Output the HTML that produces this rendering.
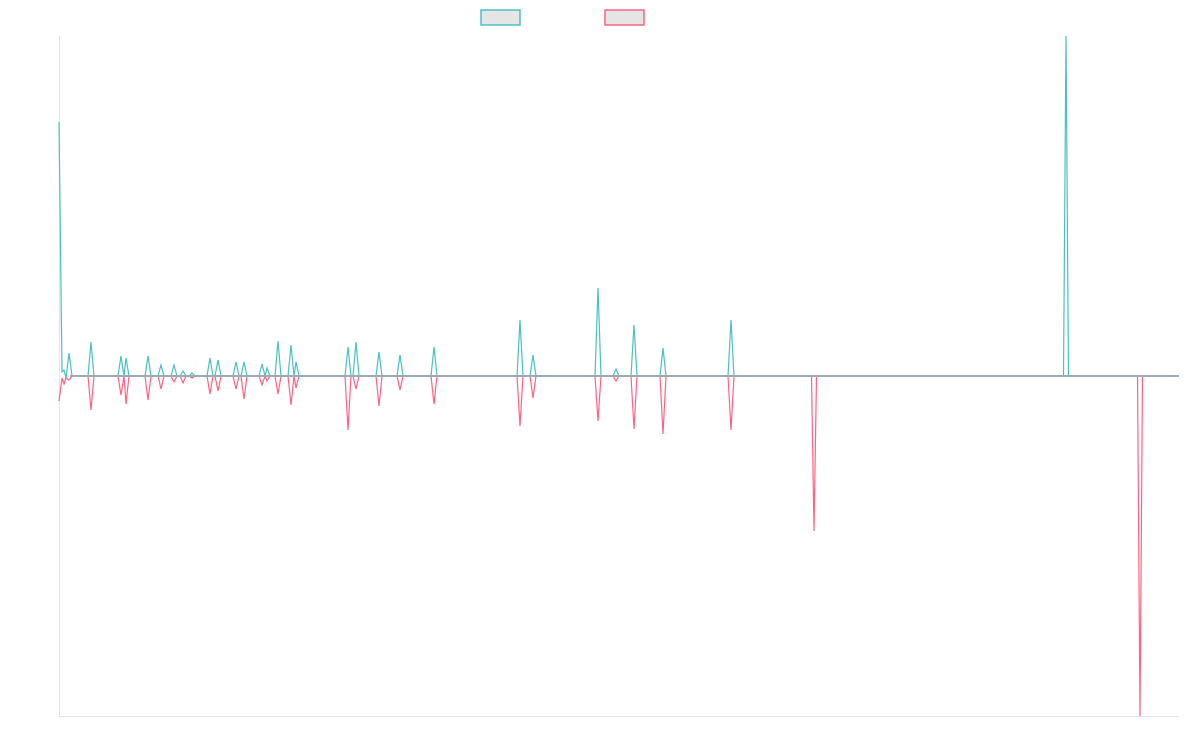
<!DOCTYPE html>
<html><head><meta charset="utf-8"><style>
html,body{margin:0;padding:0;background:#fff;width:1200px;height:750px;overflow:hidden}
</style></head><body>
<svg id="s" width="1200" height="750" xmlns="http://www.w3.org/2000/svg">
<rect x="481" y="10" width="39" height="15" fill="#e5e5e5" stroke="#4bc0c0" stroke-width="1.5"/>
<rect x="605" y="10" width="39" height="15" fill="#e5e5e5" stroke="#ff6384" stroke-width="1.5"/>
<line x1="59.5" y1="36" x2="59.5" y2="716" stroke="#e4e4e4" stroke-width="1"/>
<line x1="59" y1="716.5" x2="1179" y2="716.5" stroke="#e4e4e4" stroke-width="1"/>
<polyline id="t" fill="none" stroke="#4bc0c0" stroke-width="1.2"/>
<polyline id="p" fill="none" stroke="#ff6384" stroke-width="1.2"/>
<line x1="70" y1="376" x2="1179" y2="376" stroke="#9aabb2" stroke-width="2"/>
</svg>
<script>
var B=376;
var tS=[[91,342],[121,356],[126,358],[148,356],[161,365],[174,365],[183,371],[192,373],[210,358],[218,360],[236,362],[244,362],[262,364],[267,368],[278,341],[291,345],[296,362],[348,347],[356,342],[379,352],[400,355],[434,347],[520,320],[533,355],[598,288],[616,369],[634,325],[663,348],[731,320],[1066,36]];
var pS=[[91,410],[121,395],[126,404],[148,400],[161,389],[174,382],[183,383],[192,378],[210,394],[218,391],[236,389],[244,399],[262,385],[267,381],[278,394],[291,405],[296,388],[348,430],[356,389],[379,406],[400,390],[434,404],[520,426],[533,398],[598,421],[616,381],[634,429],[663,434],[731,430],[814,531],[1140,716]];
function build(start,sp){
 var pts=start.slice();var lastx=start[start.length-1][0];
 sp.forEach(function(s){var w=(s[0]==1066||s[0]==814||s[0]==1140)?2.5:3;
  if(s[0]-w>lastx)pts.push([s[0]-w,B]);pts.push([s[0],s[1]]);pts.push([s[0]+w,B]);lastx=s[0]+w;});
 pts.push([1179,B]);
 return pts.map(function(q){return q[0]+','+q[1]}).join(' ');
}
document.getElementById('t').setAttribute('points',build([[59,122],[62,372],[64,370],[66,378],[69,353],[72,376]],tS));
document.getElementById('p').setAttribute('points',build([[59,401],[62,378],[64,384],[66,378],[69,380],[72,376]],pS));
</script>
</body></html>
